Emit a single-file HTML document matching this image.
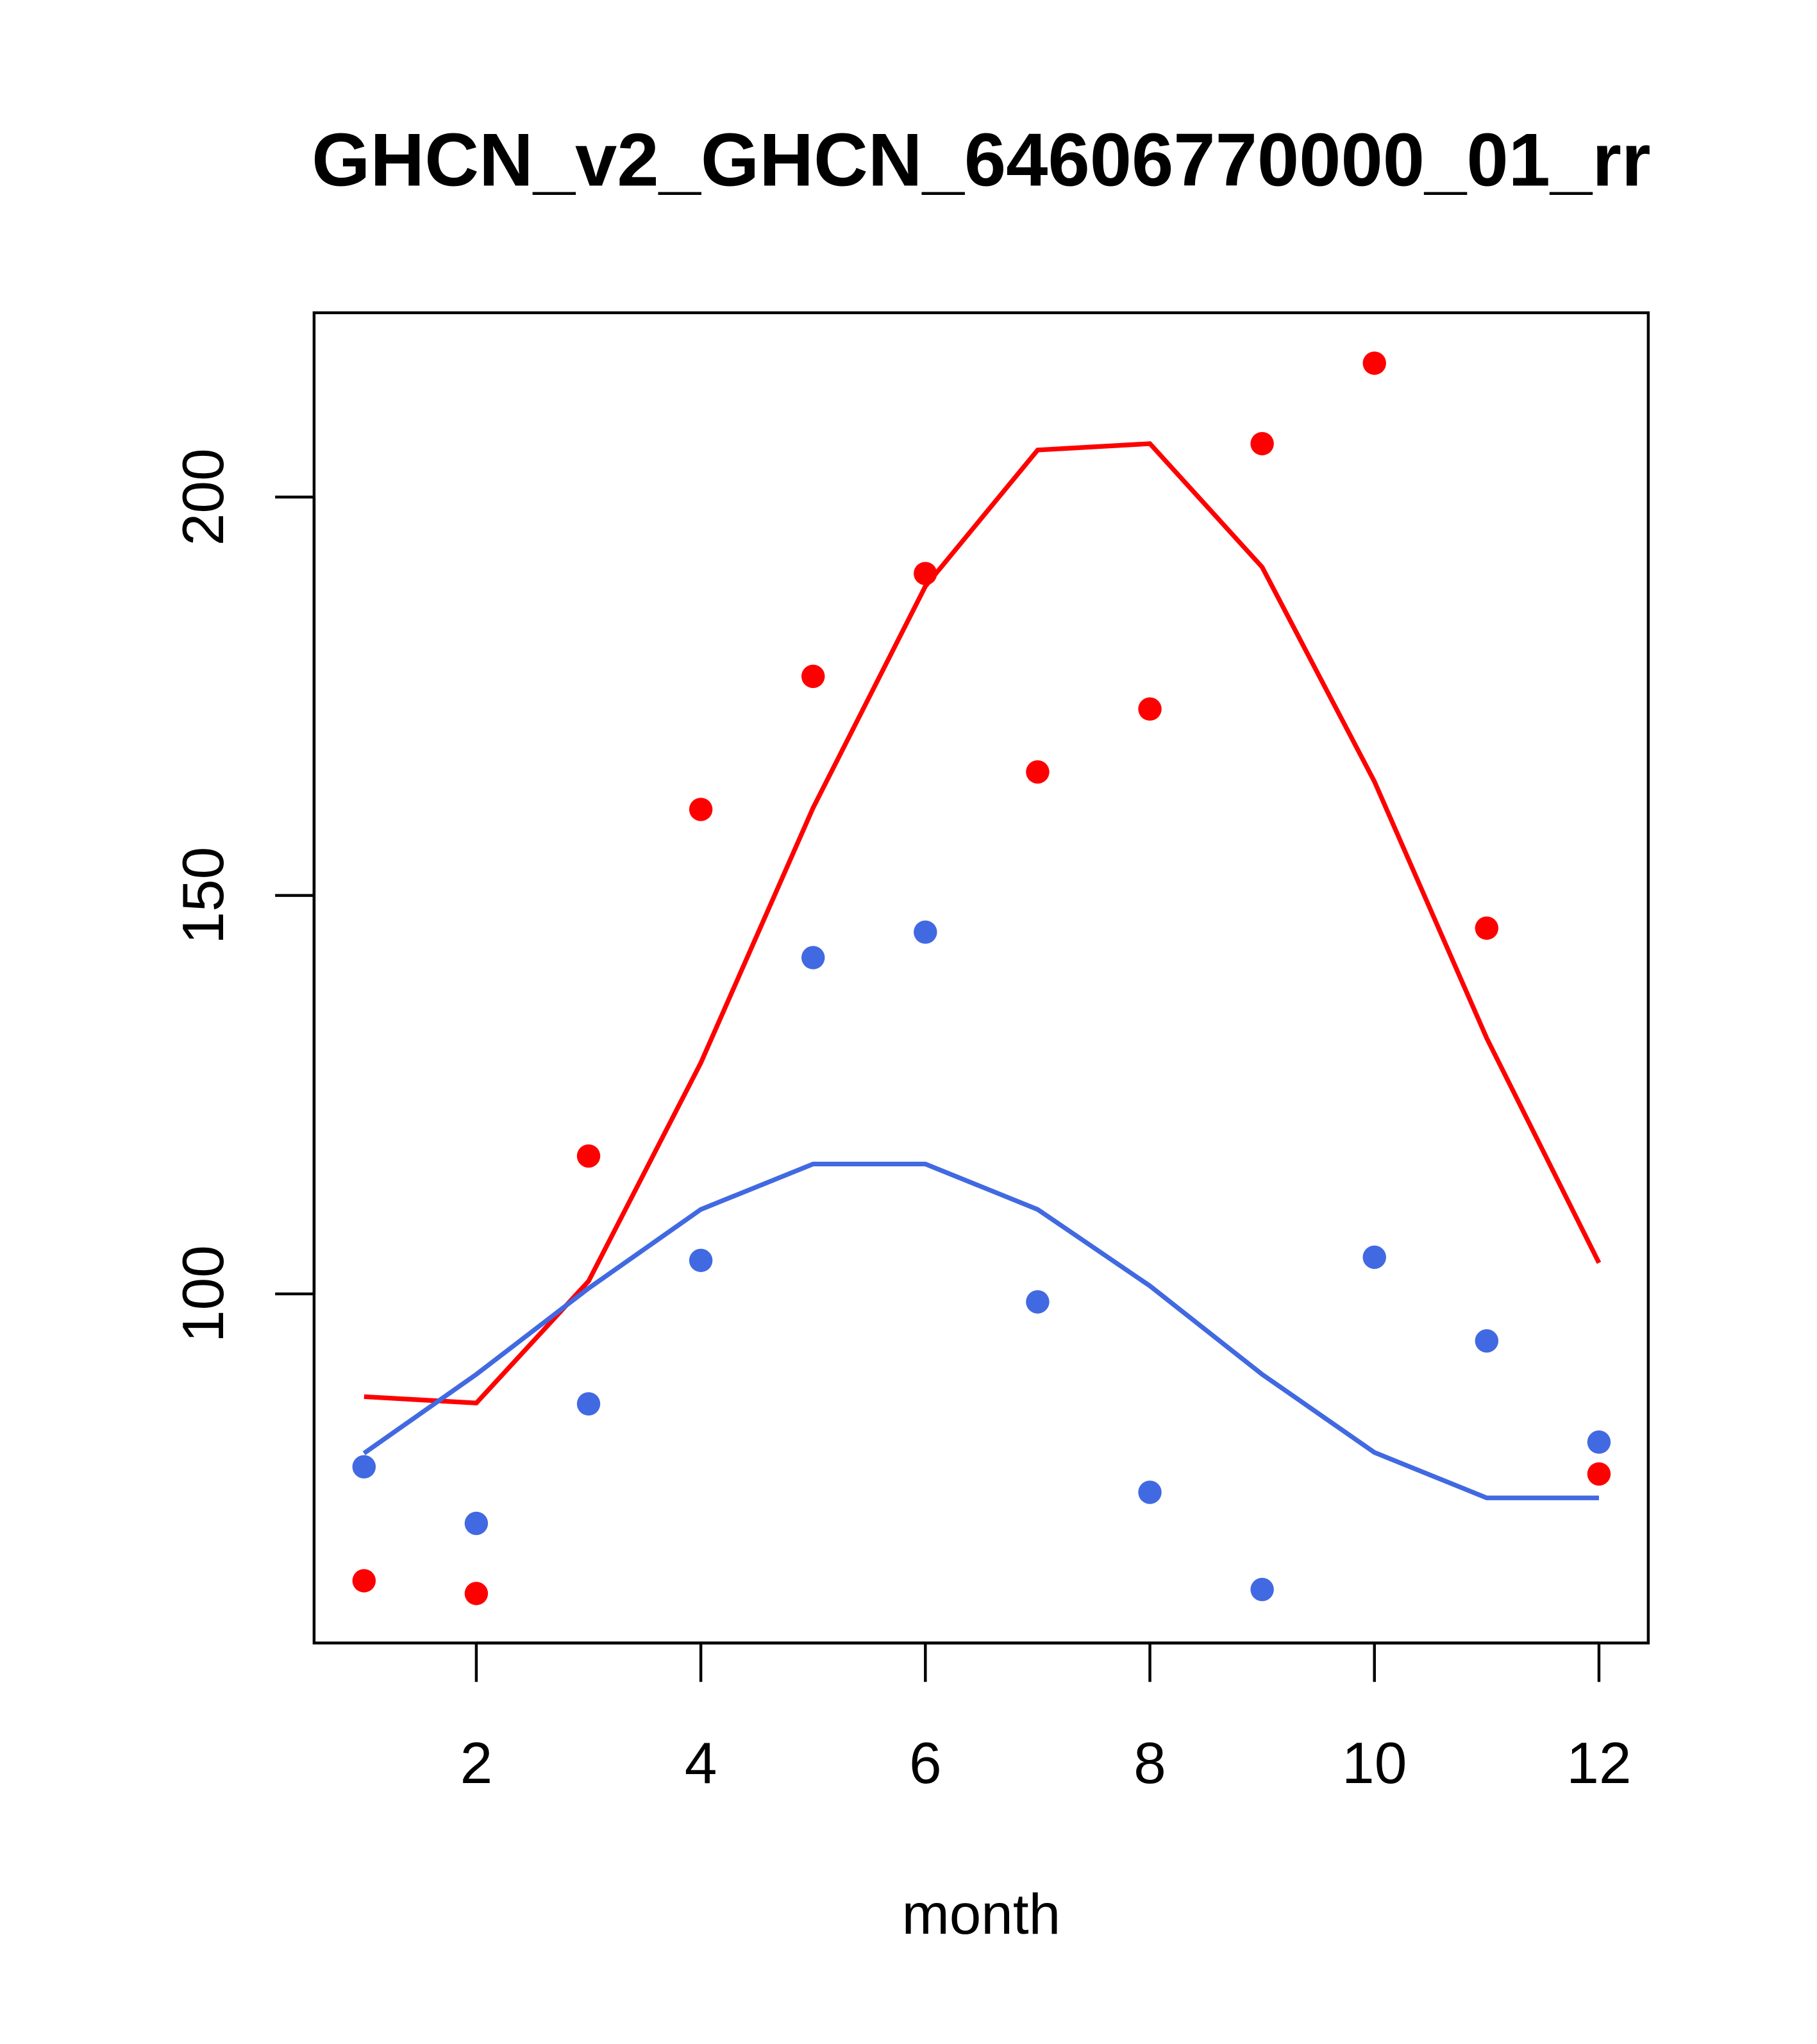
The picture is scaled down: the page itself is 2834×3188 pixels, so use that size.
<!DOCTYPE html>
<html><head><meta charset="utf-8"><style>html,body{margin:0;padding:0;background:#fff}svg{display:block}</style></head>
<body>
<svg id="chart" width="2834" height="3188" viewBox="0 0 1400 1575" preserveAspectRatio="none" xmlns="http://www.w3.org/2000/svg" font-family="Liberation Sans, sans-serif">
<rect width="1400" height="1575" fill="#fff"/>
<text x="756" y="143" font-size="58" font-weight="bold" text-anchor="middle">GHCN_v2_GHCN_64606770000_01_rr</text>
<rect x="242" y="241" width="1028" height="1025" fill="none" stroke="#000" stroke-width="2.2"/>
<text x="756" y="1490" font-size="44" text-anchor="middle">month</text>
<g id="xaxis"></g>
<g id="yaxis"></g>
<g id="series"></g>
</svg>
<script>
const months=[1,2,3,4,5,6,7,8,9,10,11,12];
const redPoints=[64,62.4,117.3,160.8,177.5,190.4,165.5,173.4,206.7,216.8,145.9,77.4];
const redLine=[87.1,86.3,101.6,129,161,188.8,205.9,206.7,191.2,164.3,132.1,103.9];
const bluePoints=[78.3,71.2,86.2,104.2,142.2,145.4,99,75.1,62.9,104.6,94.1,81.4];
const blueLine=[80,89.9,100.7,110.6,116.3,116.3,110.6,101,89.9,80.1,74.4,74.4];
const xTicks=[2,4,6,8,10,12];
const yTicks=[100,150,200];
const NS="http://www.w3.org/2000/svg";
function X(m){return 280.5+(m-1)*86.5;}
function Y(v){return 997-(v-100)*6.14;}
function mk(t,a,p){const e=document.createElementNS(NS,t);for(const k in a)e.setAttribute(k,a[k]);p.appendChild(e);return e;}
const xa=document.getElementById('xaxis'),ya=document.getElementById('yaxis'),s=document.getElementById('series');
mk('line',{x1:X(2),x2:X(12),y1:1266,y2:1266,stroke:'#000','stroke-width':2.2},xa);
xTicks.forEach(t=>{
 const l=mk('line',{x1:X(t),x2:X(t),y1:1266,y2:1296,stroke:'#000','stroke-width':2.2},xa);
 
 
 const tx=mk('text',{x:X(t),y:1374,'font-size':45,'text-anchor':'middle'},xa);tx.textContent=t;
 
 
});
mk('line',{x1:242,x2:242,y1:Y(100),y2:Y(200),stroke:'#000','stroke-width':2.2},ya);
yTicks.forEach(t=>{
 const l=mk('line',{x1:212,x2:242,y1:Y(t),y2:Y(t),stroke:'#000','stroke-width':2.2},ya);
 
 
 const tx=mk('text',{x:0,y:0,'font-size':45,'text-anchor':'middle',transform:`translate(172,${Y(t)}) rotate(-90)`},ya);tx.textContent=t;
 
 
});
function line(vals,col,name){
 const p=mk('polyline',{points:vals.map((v,i)=>X(months[i])+','+Y(v)).join(' '),fill:'none',stroke:col,'stroke-width':3.6},s);
 
 
}
function pts(vals,col,name){
 vals.forEach((v,i)=>{
  const c=mk('circle',{cx:X(months[i]),cy:Y(v),r:9,fill:col},s);
  
  
 });
}
line(redLine,'#ff0000','red-line');
line(blueLine,'#4169e1','blue-line');
pts(redPoints,'#ff0000','red-point');
pts(bluePoints,'#4169e1','blue-point');
</script>
</body></html>
